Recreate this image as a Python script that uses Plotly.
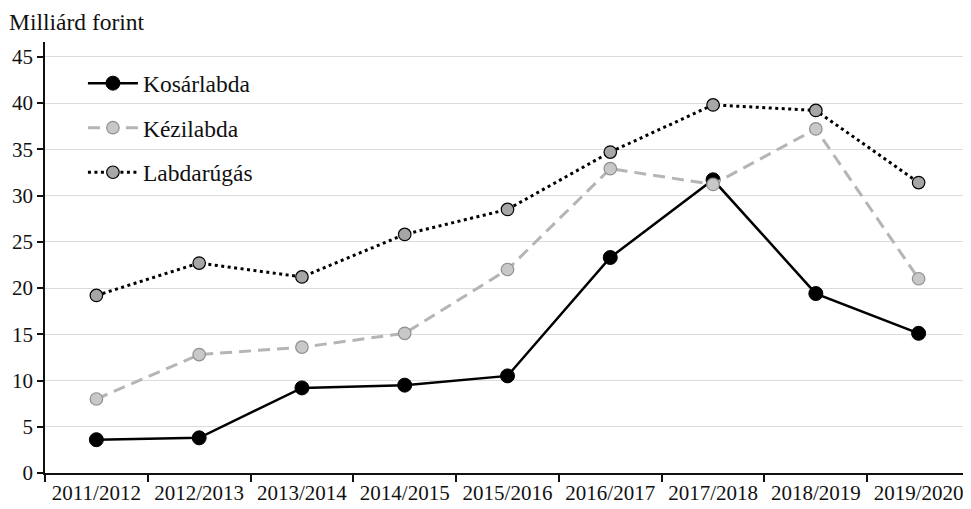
import plotly.graph_objects as go

seasons = ["2011/2012", "2012/2013", "2013/2014", "2014/2015", "2015/2016",
           "2016/2017", "2017/2018", "2018/2019", "2019/2020"]
kosarlabda = [3.6, 3.8, 9.2, 9.5, 10.5, 23.3, 31.7, 19.4, 15.1]
kezilabda = [8.0, 12.8, 13.6, 15.1, 22.0, 32.9, 31.2, 37.2, 21.0]
labdarugas = [19.2, 22.7, 21.2, 25.8, 28.5, 34.7, 39.8, 39.2, 31.4]

FONT = "Liberation Serif"
OFF = 8  # default body margin of the html page

fig = go.Figure()
fig.add_trace(go.Scatter(
    x=seasons, y=kosarlabda, name="Kosárlabda", mode="lines+markers",
    legendgroup="a",
    line=dict(color="#000000", width=2.5),
    marker=dict(size=14, color="#000000", line=dict(color="#000000", width=1)),
))
fig.add_trace(go.Scatter(
    x=seasons, y=kezilabda, name="Kézilabda", mode="lines+markers",
    legendgroup="b",
    line=dict(color="#b5b5b5", width=3, dash="12px,7px"),
    marker=dict(size=12.5, color="#c8c8c8", line=dict(color="#8f8f8f", width=1.2)),
))
fig.add_trace(go.Scatter(
    x=seasons, y=labdarugas, name="Labdarúgás", mode="lines+markers",
    legendgroup="c",
    line=dict(color="#000000", width=3, dash="3px,3.5px"),
    marker=dict(size=12.5, color="#a6a6a6", line=dict(color="#000000", width=1.2)),
))

fig.update_layout(
    width=971 - OFF, height=509 - OFF,
    margin=dict(l=45 - OFF, r=1, t=42 - OFF, b=36),
    paper_bgcolor="white", plot_bgcolor="white",
    font=dict(family=FONT, size=21, color="#111111"),
    showlegend=True,
    legend=dict(
        x=0.041, y=0.955, xanchor="left", yanchor="top",
        bgcolor="rgba(0,0,0,0)", traceorder="grouped",
        tracegroupgap=11, itemwidth=50, font=dict(family=FONT, size=23.5),
    ),
    xaxis=dict(
        type="category", range=[-0.5, 8.5],
        showline=True, linecolor="#111111", linewidth=1.5,
        ticks="outside", ticklen=7, tickcolor="#111111", tickwidth=1.5,
        tickson="boundaries", showgrid=False, zeroline=False,
        tickfont=dict(family=FONT, size=21),
    ),
    yaxis=dict(
        range=[0, 46.6], tickvals=[0, 5, 10, 15, 20, 25, 30, 35, 40, 45],
        showline=True, linecolor="#111111", linewidth=1.5,
        ticks="outside", ticklen=6, tickcolor="#111111", tickwidth=1.5,
        showgrid=True, gridcolor="#dcdcdc", gridwidth=1.3, zeroline=False,
        tickfont=dict(family=FONT, size=21),
    ),
    annotations=[dict(
        text="Milliárd forint", xref="paper", yref="paper",
        x=-0.041, y=1.0, xanchor="left", yanchor="bottom", yshift=5,
        showarrow=False, font=dict(family=FONT, size=23.5),
    )],
)

fig.write_html("out.html")
